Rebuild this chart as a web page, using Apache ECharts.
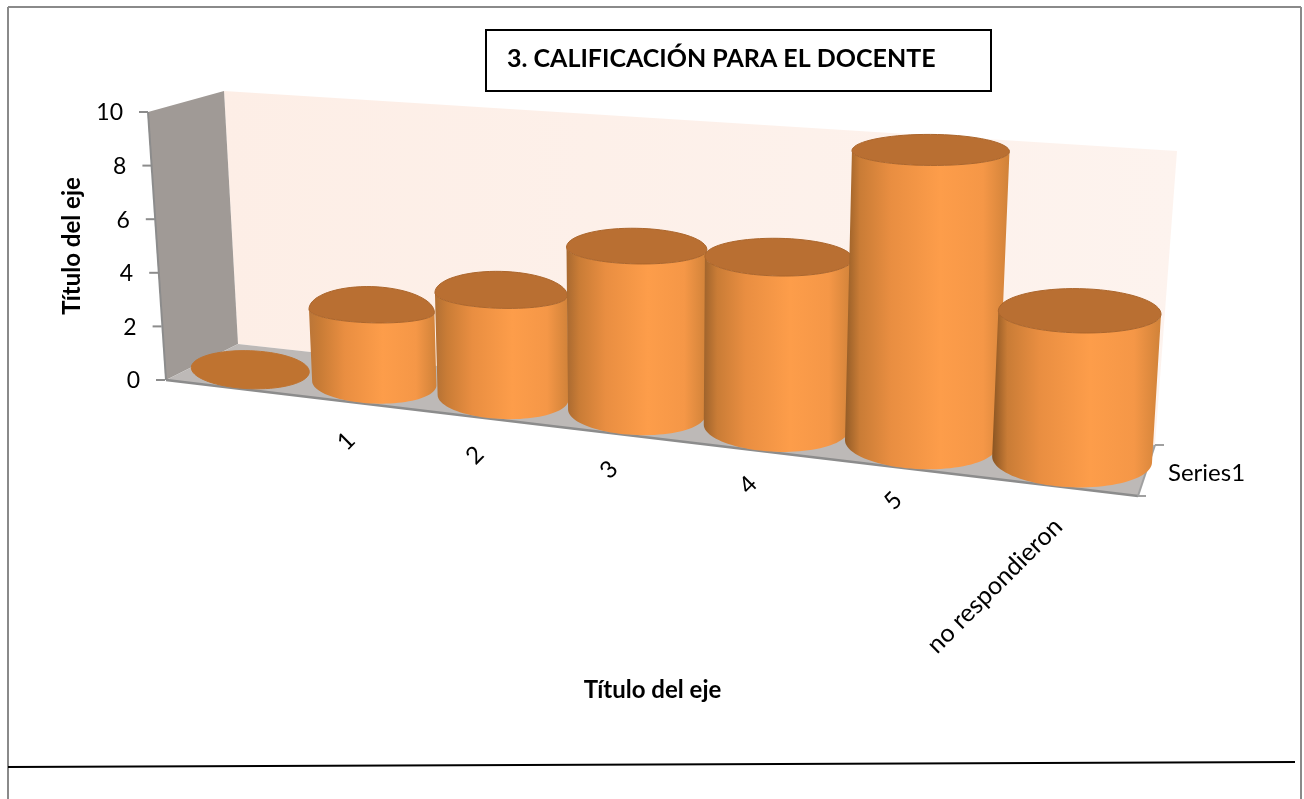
<!DOCTYPE html>
<html><head><meta charset="utf-8">
<style>html,body{margin:0;padding:0;background:#fff}#c{width:1304px;height:799px}</style>
<script src="https://cdn.jsdelivr.net/npm/echarts@6/dist/echarts.min.js"></script>
</head><body><div id="c"></div>
<script>
const categories = ['', '1', '2', '3', '4', '5', 'no respondieron'];
const values = [0, 3, 4, 6, 6, 10, 5];
const yTicks = [0, 2, 4, 6, 8, 10];
const seriesName = 'Series1';
const chartTitle = '3. CALIFICACIÓN PARA EL DOCENTE';
const axisTitle = 'Título del eje';
const FONT = 'Lato, "Open Sans", sans-serif';

// Perspective model of the 3D plot box
const GRID = {left: 165, right: 164, top: 112, bottom: 419};
const VP_X = 647, LEAN = 0.00012, W = 0.871;
function baseX(flatX) {
  const u = (flatX - GRID.left) / (1304 - GRID.left - GRID.right);
  const f = u * W / (u * W + 1 - u);
  return 190 + 960 * f;
}
const baseY = x => 383 + 0.109 * (x - 372);
const unitScale = x => (26 + 0.0048 * (x - 372)) / 26.8;
const baseRx = x => 59 + (x - 251) * 0.0255;
const baseRy = x => 19 + (x - 251) * 0.0109;
const asymAt = x => x < 800 ? 0.35 * (800 - x) / 428 : 0.08;

function ellipseAt(x0, h) {
  const k = 1 + LEAN * h;
  const ry = baseRy(x0) * (1 - h * 0.0014);
  const asym = h > 0 ? asymAt(x0) : 0;
  return {
    cx: VP_X + (x0 - VP_X) * k,
    cy: baseY(x0) - h + asym * ry,
    rx: baseRx(x0) * k,
    ry, asym,
    tilt: Math.max(0.035 - 0.0001 * h, 0.005)
  };
}
function arc(e, a0, a1, n) {
  const pts = [];
  for (let i = 0; i <= n; i++) {
    const t = a0 + (a1 - a0) * i / n;
    const s = Math.sin(t);
    const r = e.ry * (s < 0 ? 1 + e.asym : 1 - e.asym);
    pts.push([e.cx + e.rx * Math.cos(t), e.cy + r * s + e.tilt * e.rx * Math.cos(t)]);
  }
  return pts;
}
function bodyFill(x0) {
  const s = (x0 - 250) / 830;
  const mix = (a, b) => Math.round(a + (b - a) * s);
  const edge = 'rgb(' + mix(196, 136) + ',' + mix(124, 84) + ',' + mix(60, 34) + ')';
  return {type: 'linear', x: 0, y: 0, x2: 1, y2: 0, colorStops: [
    {offset: 0, color: edge},
    {offset: 0.09, color: '#c97c36'},
    {offset: 0.28, color: '#e98e41'},
    {offset: 0.58, color: '#fd9d4a'},
    {offset: 0.84, color: '#f59747'},
    {offset: 1, color: '#d08239'}
  ]};
}
function renderCylinder(params, api) {
  const i = api.value(0), v = api.value(1);
  const p0 = api.coord([i, 0]), p1 = api.coord([i, v]);
  const x0 = baseX(p0[0]);
  const flat = (p0[1] - p1[1]) * unitScale(x0);
  const h = flat * (1 + 0.00008 * flat);
  const bottom = ellipseAt(x0, 0), top = ellipseAt(x0, h);
  const children = [];
  if (h > 0) {
    const side = arc(bottom, Math.PI, 0, 48).concat(arc(top, 0, Math.PI, 48));
    children.push({type: 'polygon', shape: {points: side}, style: {fill: bodyFill(x0)}});
  }
  children.push({type: 'polygon', shape: {points: arc(top, 0, Math.PI * 2, 72)},
    style: {fill: h > 0 ? '#b96f32' : '#bf7330', stroke: h > 0 ? '#ac662c' : '#bf7330', lineWidth: 1}});
  return {type: 'group', children};
}
function renderCategoryLabel(params, api) {
  const i = api.value(0);
  const x0 = baseX(api.coord([i, 0])[0]);
  const long = categories[i].length > 1;
  return {type: 'text', x: x0 + (long ? -14 : -28), y: baseY(x0) + (long ? 63 : 58), rotation: Math.PI / 4,
    style: {text: categories[i], fill: '#000', font: (long ? 25 : 24) + 'px ' + FONT, align: long ? 'right' : 'center', verticalAlign: 'middle'}};
}
function renderYTick(params, api) {
  const y = api.coord([0, api.value(1)])[1];
  const xe = 165 - (380 - y) * 0.0634;
  return {type: 'group', children: [
    {type: 'line', shape: {x1: xe - 9, y1: y, x2: xe, y2: y}, style: {stroke: '#8c8c8c', lineWidth: 2}},
    {type: 'text', x: xe - 25, y: y + 1, style: {text: String(api.value(1)), fill: '#000', font: '23px ' + FONT, align: 'right', verticalAlign: 'middle'}}
  ]};
}

const line = (x1, y1, x2, y2, stroke, lw) => ({type: 'line', z: 0, shape: {x1, y1, x2, y2}, style: {stroke, lineWidth: lw}});
const poly = (points, fill) => ({type: 'polygon', z: 0, shape: {points}, style: {fill}});

const chart = echarts.init(document.getElementById('c'), null, {renderer: 'canvas'});
chart.setOption({
  animation: false,
  backgroundColor: '#fff',
  title: {text: chartTitle, left: 507, top: 46, padding: 0,
    textStyle: {fontFamily: FONT, fontWeight: 'bold', fontSize: 25, color: '#000'}},
  grid: GRID,
  xAxis: {type: 'category', data: categories, name: axisTitle, nameLocation: 'middle', nameGap: 298,
    nameTextStyle: {fontFamily: FONT, fontWeight: 'bold', fontSize: 24, color: '#000'},
    axisLine: {show: false}, axisTick: {show: false}, axisLabel: {show: false}, splitLine: {show: false}},
  yAxis: {type: 'value', min: 0, max: 10, interval: 2, name: axisTitle, nameLocation: 'middle', nameRotate: 90, nameGap: 81,
    nameTextStyle: {fontFamily: FONT, fontWeight: 'bold', fontSize: 24, color: '#000'},
    axisLine: {show: false}, axisTick: {show: false}, axisLabel: {show: false}, splitLine: {show: false}},
  graphic: [
    poly([[224, 91], [1177, 151], [1155, 445], [238, 344]], {type: 'linear', x: 0, y: 0, x2: 1, y2: 0,
      colorStops: [{offset: 0, color: '#fdeee6'}, {offset: 1, color: '#fdf3ee'}]}),
    poly([[148, 112], [224, 91], [238, 344], [166, 380]], '#a09a96'),
    poly([[166, 380], [238, 344], [1155, 445], [1138, 496]], '#bdb9b7'),
    line(148, 112, 166, 380, '#8c8c8c', 2),
    line(166, 380, 1138, 496, '#8c8c8c', 2.5),
    line(1138, 496, 1155, 445, '#a0a0a0', 2),
    line(1155, 445, 1164, 445, '#a0a0a0', 2),
    line(1138, 496, 1146, 496, '#a0a0a0', 2),
    {type: 'text', z: 0, x: 1168, y: 473, style: {text: seriesName, fill: '#000', font: '24px ' + FONT, verticalAlign: 'middle'}},
    {type: 'rect', z: 0, shape: {x: 486, y: 30, width: 505, height: 61}, style: {fill: 'transparent', stroke: '#000', lineWidth: 2}},
    line(8, 7, 1301, 7, '#8a8a8a', 2),
    line(8, 7, 8, 799, '#8a8a8a', 2),
    line(1301, 7, 1301, 799, '#8a8a8a', 2),
    line(8, 767, 1295, 762, '#000', 2)
  ],
  series: [
    {type: 'custom', name: seriesName, coordinateSystem: 'cartesian2d', renderItem: renderCylinder,
      encode: {x: 0, y: 1}, data: values.map((v, i) => [i, v]), z: 3, clip: false},
    {type: 'custom', name: 'categoryLabels', coordinateSystem: 'cartesian2d', renderItem: renderCategoryLabel,
      encode: {x: 0, y: 1}, data: categories.map((c, i) => [i, 0]), z: 4, clip: false, silent: true},
    {type: 'custom', name: 'valueTicks', coordinateSystem: 'cartesian2d', renderItem: renderYTick,
      encode: {x: 0, y: 1}, data: yTicks.map(t => [0, t]), z: 4, clip: false, silent: true}
  ]
});
</script></body></html>
